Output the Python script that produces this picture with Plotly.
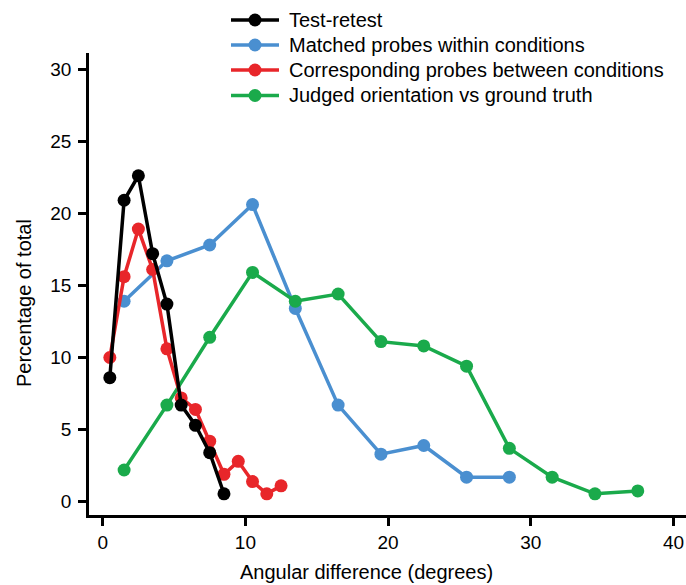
import plotly.graph_objects as go

x_black = [0.5, 1.5, 2.5, 3.5, 4.5, 5.5, 6.5, 7.5, 8.5]
y_black = [8.6, 20.9, 22.6, 17.2, 13.7, 6.7, 5.3, 3.4, 0.55]

x_blue = [1.5, 4.5, 7.5, 10.5, 13.5, 16.5, 19.5, 22.5, 25.5, 28.5]
y_blue = [13.9, 16.7, 17.8, 20.6, 13.4, 6.7, 3.3, 3.9, 1.7, 1.7]

x_red = [0.5, 1.5, 2.5, 3.5, 4.5, 5.5, 6.5, 7.5, 8.5, 9.5, 10.5, 11.5, 12.5]
y_red = [10.0, 15.6, 18.9, 16.1, 10.6, 7.2, 6.4, 4.2, 1.9, 2.8, 1.4, 0.55, 1.1]

x_green = [1.5, 4.5, 7.5, 10.5, 13.5, 16.5, 19.5, 22.5, 25.5, 28.5, 31.5, 34.5, 37.5]
y_green = [2.2, 6.7, 11.4, 15.9, 13.9, 14.4, 11.1, 10.8, 9.4, 3.7, 1.7, 0.55, 0.75]

names = ["Test-retest", "Matched probes within conditions",
         "Corresponding probes between conditions", "Judged orientation vs ground truth"]
colors = ["#000000", "#4a8fd0", "#e8262a", "#1aaa4b"]
xs_all = [x_black, x_blue, x_red, x_green]
ys_all = [y_black, y_blue, y_red, y_green]

x_title = "Angular difference (degrees)"
y_title = "Percentage of total"

W, H = 686, 585
ML, MR, MT, MB = 89, 0, 53, 70
PW, PH = W - ML - MR, H - MT - MB

fig = go.Figure()
# draw order: blue, green, red, black (black on top)
for i in [1, 3, 2, 0]:
    fig.add_trace(go.Scatter(x=xs_all[i], y=ys_all[i], name=names[i],
                             mode="lines+markers", showlegend=False,
                             line=dict(color=colors[i], width=3.5),
                             marker=dict(color=colors[i], size=13)))

# custom legend (paper coordinates derived from pixel layout)
def px_to_paper(px, py):
    return (px - ML) / PW, (H - MB - py) / PH

font = "Liberation Sans, Arial, sans-serif"

row_y = [20, 45, 70, 95.5]
shapes = []
annotations = []
for i, nm in enumerate(names):
    x0, y0 = px_to_paper(231, row_y[i])
    x1, _ = px_to_paper(279, row_y[i])
    shapes.append(dict(type="line", xref="paper", yref="paper",
                       x0=x0, x1=x1, y0=y0, y1=y0,
                       line=dict(color=colors[i], width=3.5)))
    cx0, cy0 = px_to_paper(255 - 6.5, row_y[i] + 6.5)
    cx1, cy1 = px_to_paper(255 + 6.5, row_y[i] - 6.5)
    shapes.append(dict(type="circle", xref="paper", yref="paper",
                       x0=cx0, x1=cx1, y0=cy0, y1=cy1,
                       fillcolor=colors[i], line=dict(color=colors[i], width=0)))
    tx, ty = px_to_paper(287, row_y[i])
    annotations.append(dict(text=nm, xref="paper", yref="paper", x=tx, y=ty,
                            xanchor="left", yanchor="middle", showarrow=False,
                            font=dict(family=font, size=20, color="black")))

# axis titles
axx, axy = px_to_paper(366, 572)
annotations.append(dict(text=x_title, xref="paper", yref="paper", x=axx, y=axy,
                        xanchor="center", yanchor="middle", showarrow=False,
                        font=dict(family=font, size=20, color="black")))
ayx, ayy = px_to_paper(24, 303)
annotations.append(dict(text=y_title, xref="paper", yref="paper", x=ayx, y=ayy,
                        xanchor="center", yanchor="middle", showarrow=False,
                        textangle=-90,
                        font=dict(family=font, size=20, color="black")))

fig.update_layout(
    width=W, height=H,
    margin=dict(l=ML, r=MR, t=MT, b=MB, pad=0),
    paper_bgcolor="white", plot_bgcolor="white",
    font=dict(family=font, size=18, color="black"),
    showlegend=False,
    shapes=shapes, annotations=annotations,
    xaxis=dict(range=[-0.96, 40.88], tickvals=[0, 10, 20, 30, 40],
               showline=True, linewidth=2.5, linecolor="black",
               ticks="outside", ticklen=8, tickwidth=2.5, tickcolor="black",
               showgrid=False, zeroline=False,
               tickfont=dict(family=font, size=19, color="black")),
    yaxis=dict(range=[-0.92, 31.11], tickvals=[0, 5, 10, 15, 20, 25, 30],
               showline=True, linewidth=2.5, linecolor="black",
               ticks="outside", ticklen=8, tickwidth=2.5, tickcolor="black",
               showgrid=False, zeroline=False, ticklabelstandoff=3,
               tickfont=dict(family=font, size=19, color="black")),
)

fig.write_html("out.html")
